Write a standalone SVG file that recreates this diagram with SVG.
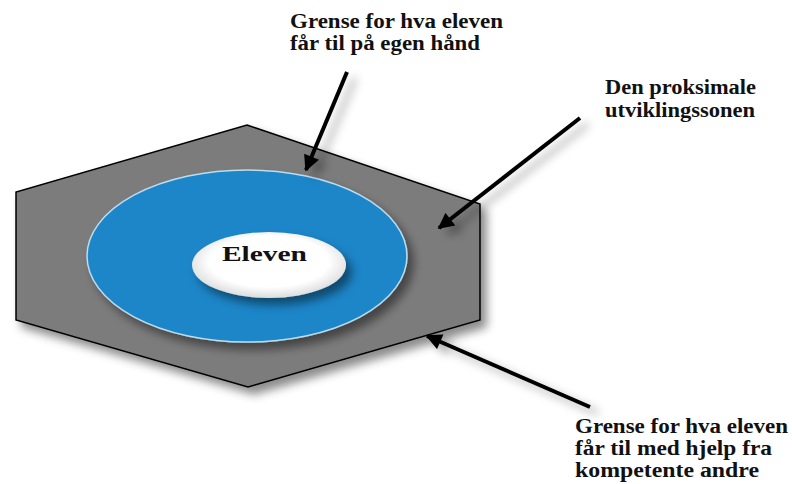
<svg xmlns="http://www.w3.org/2000/svg" width="792" height="484" viewBox="0 0 792 484">
  <style>
    .lbl { font-family: "Liberation Serif", "Times New Roman", serif; font-weight: bold; font-size: 20px; fill: #111; }
    .arrow { stroke: #000; stroke-width: 4; fill: none; marker-end: url(#head); }
  </style>
  <defs>
    <filter id="shadow" x="-20%" y="-20%" width="150%" height="150%">
      <feDropShadow dx="6" dy="7" stdDeviation="5" flood-color="#000" flood-opacity="0.45"/>
    </filter>
    <filter id="ashadow" x="-30%" y="-30%" width="170%" height="170%">
      <feDropShadow dx="8" dy="6" stdDeviation="5" flood-color="#000" flood-opacity="0.35"/>
    </filter>
    <radialGradient id="whiteGrad" cx="50%" cy="45%" r="55%">
      <stop offset="0.7" stop-color="#ffffff"/>
      <stop offset="1" stop-color="#dcdcdc"/>
    </radialGradient>
    <marker id="head" viewBox="0 0 10 10" refX="9" refY="5" markerWidth="4.5" markerHeight="4" orient="auto" markerUnits="strokeWidth">
      <path d="M0,0 L10,5 L0,10 z" fill="#000"/>
    </marker>
  </defs>

  <g id="hexagon">
    <polygon points="247,125 480,204 480,320 248,387 16,320 16,192" fill="#7c7c7c" stroke="#000" stroke-width="1.5" filter="url(#shadow)"/>
  </g>

  <g id="zone-blue">
    <ellipse cx="247" cy="256" rx="160" ry="86" fill="#1a86c9" stroke="#bcdcf0" stroke-width="1.5" filter="url(#shadow)"/>
  </g>

  <g id="eleven">
    <ellipse cx="269" cy="265" rx="77" ry="33" fill="url(#whiteGrad)" filter="url(#shadow)"/>
    <text class="lbl" x="222" y="261" textLength="85" lengthAdjust="spacingAndGlyphs" style="font-size:21px">Eleven</text>
  </g>

  <g id="connectors">
    <line class="arrow" x1="347" y1="72" x2="306" y2="170" filter="url(#ashadow)"/>
    <line class="arrow" x1="580" y1="118" x2="439" y2="228" filter="url(#ashadow)"/>
    <line class="arrow" x1="590" y1="407" x2="427" y2="336" filter="url(#ashadow)"/>
  </g>

  <g id="label-egen">
    <text class="lbl" x="290" y="28" textLength="213" lengthAdjust="spacingAndGlyphs">Grense for hva eleven</text>
    <text class="lbl" x="290" y="50" textLength="190" lengthAdjust="spacingAndGlyphs">får til på egen hånd</text>
  </g>

  <g id="label-sone">
    <text class="lbl" x="605" y="94" textLength="151" lengthAdjust="spacingAndGlyphs">Den proksimale</text>
    <text class="lbl" x="605" y="117" textLength="150" lengthAdjust="spacingAndGlyphs">utviklingssonen</text>
  </g>

  <g id="label-hjelp">
    <text class="lbl" x="575" y="433" textLength="213" lengthAdjust="spacingAndGlyphs">Grense for hva eleven</text>
    <text class="lbl" x="575" y="455" textLength="197" lengthAdjust="spacingAndGlyphs">får til med hjelp fra</text>
    <text class="lbl" x="575" y="477" textLength="184" lengthAdjust="spacingAndGlyphs">kompetente andre</text>
  </g>
</svg>
